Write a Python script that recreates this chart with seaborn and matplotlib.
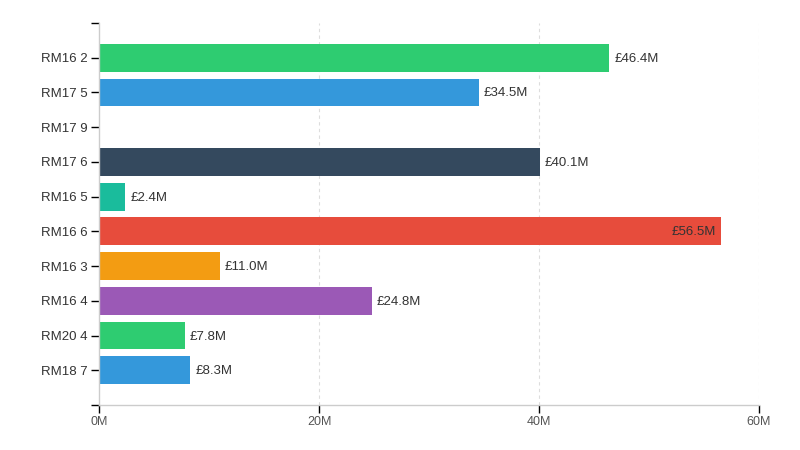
"""Horizontal bar chart of values by postcode sector."""

import matplotlib
matplotlib.use("Agg")
import matplotlib.pyplot as plt
import seaborn as sns
import pandas as pd

# Data (values in £M)
sectors = ["RM16 2", "RM17 5", "RM17 9", "RM17 6", "RM16 5",
           "RM16 6", "RM16 3", "RM16 4", "RM20 4", "RM18 7"]
values = [46.4, 34.5, 0.0, 40.1, 2.4, 56.5, 11.0, 24.8, 7.8, 8.3]
bar_colors = ["#2ecc71", "#3498db", "#9b59b6", "#34495e", "#1abc9c",
              "#e74c3c", "#f39c12", "#9b59b6", "#2ecc71", "#3498db"]
x_ticks = [0, 20, 40, 60]
x_tick_labels = ["0M", "20M", "40M", "60M"]

df = pd.DataFrame({"sector": sectors, "value": values})

sns.set_style("white")
plt.rcParams["font.family"] = ["Liberation Sans", "DejaVu Sans"]

fig = plt.figure(figsize=(8, 4.5), dpi=100)
ax = fig.add_axes([99 / 800, 1 - 405 / 450, 660 / 800, 382 / 450])

sns.barplot(
    data=df, x="value", y="sector", hue="sector",
    palette=dict(zip(sectors, bar_colors)), orient="h",
    width=0.8, legend=False, ax=ax, saturation=1, linewidth=0,
)

ax.set_xlim(0, 60)
ax.set_ylim(len(sectors), -1)

# grid at 20M, 40M, 60M
for t in x_ticks[1:]:
    ax.axvline(t, color="#dddddd", linestyle=(0, (3, 3)), linewidth=0.8, zorder=0)

ax.set_xticks(x_ticks)
ax.set_xticklabels(x_tick_labels, fontsize=9, color="#555555")
ax.set_yticks(range(-1, len(sectors) + 1))
ax.set_yticklabels([""] + sectors + [""], fontsize=9.5, color="#333333")
ax.tick_params(axis="both", length=6, width=1, color="#000000", pad=2)
ax.tick_params(axis="y", left=True)
ax.tick_params(axis="x", bottom=True)
ax.set_xlabel("")
ax.set_ylabel("")

for side in ["top", "right"]:
    ax.spines[side].set_visible(False)
for side in ["left", "bottom"]:
    ax.spines[side].set_color("#cccccc")
    ax.spines[side].set_linewidth(1)

# value labels
for i, v in enumerate(values):
    if v <= 0:
        continue
    label = f"£{v:.1f}M"
    if v > 52:
        ax.text(v - 0.45, i + 0.03, label, ha="right", va="center", fontsize=9.5, color="#333333")
    else:
        ax.text(v + 0.45, i + 0.03, label, ha="left", va="center", fontsize=9.5, color="#333333")

fig.savefig("out.png", dpi=100)
